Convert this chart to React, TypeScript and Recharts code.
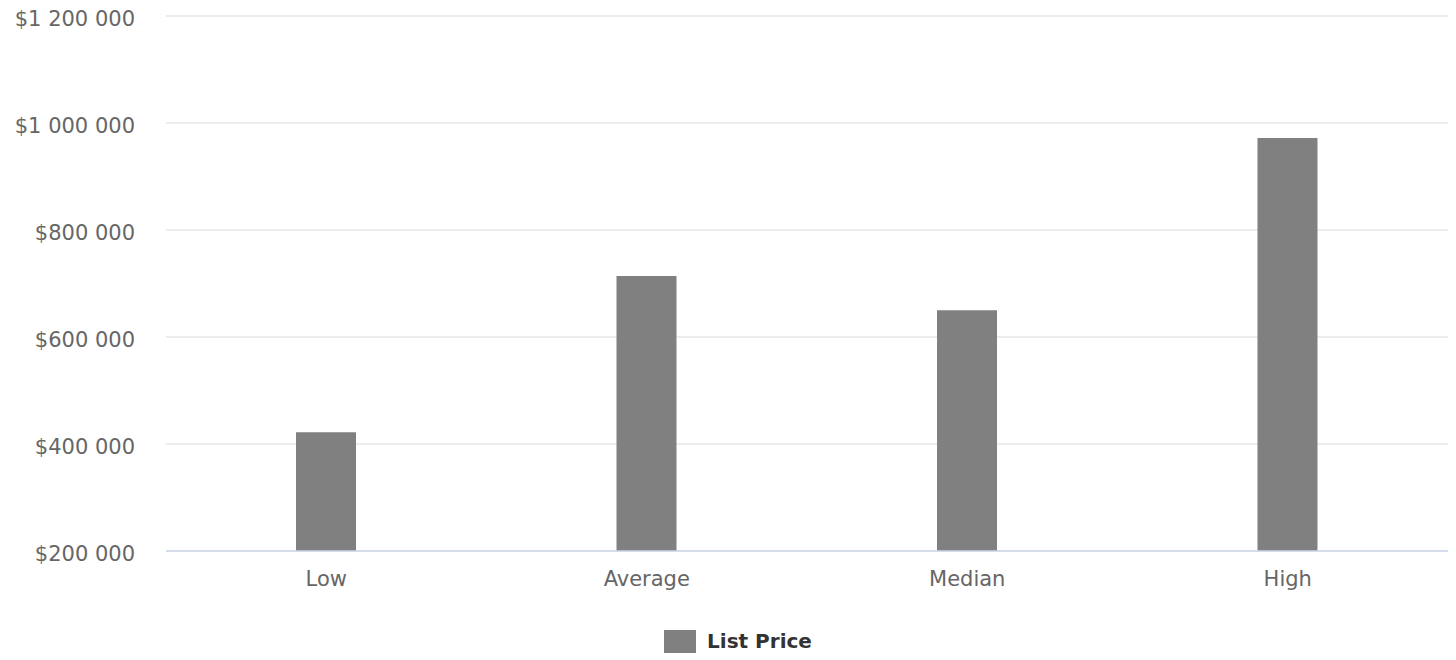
import { BarChart, Bar, XAxis, YAxis, CartesianGrid, Legend } from "recharts"

const categories = ["Low", "Average", "Median", "High"]
const listPrice = [422000, 714000, 650000, 972000]
const yTicks = [200000, 400000, 600000, 800000, 1000000, 1200000]

const data = categories.map((name, i) => ({ name, listPrice: listPrice[i] }))

const FONT = "'DejaVu Sans', Verdana, sans-serif"

// "$1 200 000" style
const formatMoney = (v: number) => "$" + String(v).replace(/\B(?=(\d{3})+(?!\d))/g, " ")

function LegendContent(props: any) {
  const items = props.payload || []
  return (
    <div style={{ display: "flex", justifyContent: "center", alignItems: "center", height: 30, paddingLeft: 28 }}>
      {items.map((item: any) => (
        <div key={item.value} style={{ display: "flex", alignItems: "center" }}>
          <span style={{ display: "inline-block", width: 32, height: 23, background: item.color, marginRight: 11 }} />
          <span style={{ fontFamily: FONT, fontSize: 20, fontWeight: "bold", color: "#333333" }}>{item.value}</span>
        </div>
      ))}
    </div>
  )
}

export default function App() {
  return (
    <div style={{ position: "absolute", left: 0, top: 0, width: 1456, height: 660, background: "#fff" }}>
      <BarChart
        width={1456}
        height={660}
        data={data}
        margin={{ top: 16, right: 8, left: 0, bottom: 4 }}
      >
        <CartesianGrid vertical={false} stroke="#e6e6e6" strokeWidth={1.5} />
        <XAxis
          dataKey="name"
          height={75}
          tickLine={false}
          tickSize={0}
          tickMargin={20}
          axisLine={{ stroke: "#ccd6eb", strokeWidth: 1.5 }}
          tick={{ fill: "#666666", fontSize: 21, fontFamily: FONT }}
        />
        <YAxis
          width={166}
          domain={[200000, 1200000]}
          ticks={yTicks}
          allowDataOverflow
          axisLine={false}
          tickLine={false}
          tickSize={0}
          tickMargin={31}
          tickFormatter={formatMoney}
          tick={{ fill: "#666666", fontSize: 21, fontFamily: FONT, dy: 3 }}
        />
        <Legend verticalAlign="bottom" content={<LegendContent />} />
        <Bar dataKey="listPrice" name="List Price" fill="#808080" barSize={60} isAnimationActive={false} />
      </BarChart>
    </div>
  )
}
